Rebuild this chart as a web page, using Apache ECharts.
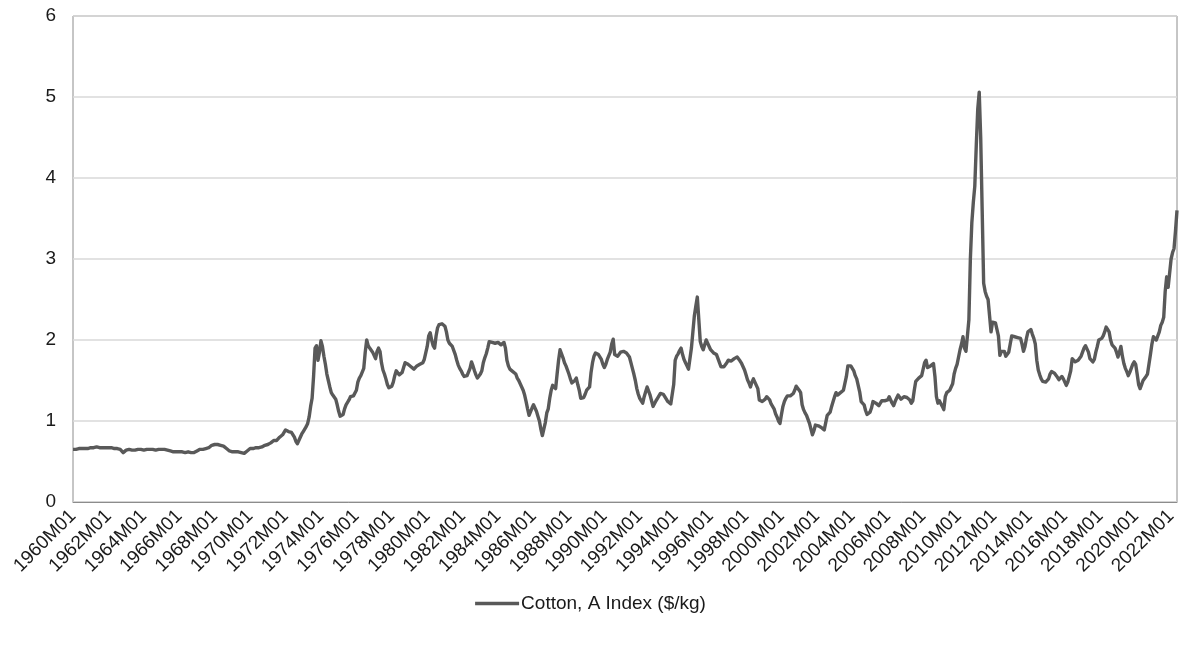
<!DOCTYPE html>
<html>
<head>
<meta charset="utf-8">
<script src="https://cdn.jsdelivr.net/npm/echarts@6/dist/echarts.min.js"></script>
<style>html,body{margin:0;padding:0;background:#fff}#c{width:1181px;height:646px}</style>
</head>
<body>
<div id="c"></div>
<script>
const seriesName = 'Cotton, A Index ($/kg)';
const firstYear = 1960;
const yTicks = [0, 1, 2, 3, 4, 5, 6];

const cotton1960s = [
  0.65,0.65,0.65,0.65,0.66,0.66,0.66,0.66,0.66,0.66,0.66,0.67,
  0.67,0.67,0.67,0.68,0.68,0.68,0.67,0.67,0.67,0.68,0.67,0.67,
  0.67,0.67,0.67,0.66,0.66,0.66,0.66,0.66,0.65,0.63,0.61,0.63,
  0.64,0.65,0.65,0.65,0.64,0.64,0.64,0.64,0.65,0.65,0.65,0.64,
  0.64,0.64,0.65,0.65,0.65,0.65,0.65,0.64,0.64,0.64,0.65,0.65,
  0.65,0.67,0.65,0.64,0.64,0.63,0.63,0.63,0.62,0.62,0.62,0.62,
  0.62,0.62,0.62,0.61,0.61,0.62,0.62,0.63,0.61,0.61,0.61,0.62,
  0.63,0.64,0.65,0.65,0.65,0.66,0.66,0.66,0.67,0.68,0.70,0.71,
  0.71,0.71,0.71,0.71,0.70,0.70,0.69,0.68,0.66,0.64,0.63,0.62,
  0.62,0.62,0.62,0.62,0.62,0.62,0.61,0.61,0.60,0.62,0.63,0.65
];
const cotton1970s = [
  0.66,0.66,0.66,0.67,0.67,0.67,0.67,0.68,0.68,0.69,0.70,0.70,
  0.71,0.72,0.73,0.73,0.76,0.77,0.76,0.78,0.80,0.82,0.83,0.85,
  0.89,0.88,0.87,0.86,0.86,0.84,0.80,0.75,0.72,0.76,0.80,0.84,
  0.87,0.90,0.93,0.97,1.05,1.18,1.28,1.55,1.90,1.93,1.75,1.85,
  1.99,1.92,1.80,1.70,1.58,1.50,1.42,1.35,1.32,1.30,1.27,1.20,
  1.12,1.06,1.05,1.08,1.15,1.20,1.22,1.26,1.30,1.32,1.31,1.30,
  1.38,1.48,1.53,1.56,1.58,1.65,1.85,2.00,1.93,1.90,1.88,1.85,
  1.85,1.77,1.86,1.90,1.86,1.72,1.63,1.58,1.52,1.45,1.41,1.42,
  1.43,1.48,1.56,1.62,1.60,1.57,1.55,1.60,1.66,1.72,1.73,1.70,
  1.68,1.67,1.66,1.64,1.66,1.68,1.69,1.70,1.71,1.72,1.76,1.84
];
const cotton1980s = [
  1.92,2.05,2.09,2.00,1.93,1.90,2.05,2.15,2.19,2.20,2.20,2.19,
  2.17,2.10,2.00,1.96,1.95,1.92,1.90,1.82,1.75,1.69,1.65,1.62,
  1.58,1.55,1.54,1.56,1.57,1.65,1.73,1.68,1.62,1.57,1.53,1.55,
  1.58,1.62,1.72,1.78,1.83,1.90,1.98,2.00,1.97,1.96,1.96,1.97,
  1.97,1.95,1.94,1.96,1.97,1.90,1.75,1.68,1.64,1.62,1.61,1.60,
  1.58,1.53,1.50,1.46,1.42,1.38,1.32,1.24,1.15,1.07,1.08,1.16,
  1.20,1.16,1.12,1.06,1.00,0.90,0.82,0.84,0.98,1.10,1.15,1.28,
  1.38,1.44,1.42,1.40,1.58,1.75,1.88,1.86,1.78,1.72,1.68,1.66,
  1.58,1.52,1.47,1.46,1.50,1.53,1.45,1.38,1.28,1.27,1.29,1.33,
  1.38,1.40,1.42,1.60,1.72,1.80,1.84,1.83,1.82,1.82,1.76,1.70
];
const cotton1990s = [
  1.66,1.70,1.76,1.78,1.85,1.95,2.01,1.82,1.80,1.80,1.82,1.85,
  1.87,1.86,1.85,1.84,1.82,1.79,1.72,1.65,1.58,1.50,1.40,1.33,
  1.28,1.25,1.22,1.30,1.36,1.42,1.40,1.32,1.25,1.18,1.20,1.25,
  1.28,1.31,1.34,1.35,1.33,1.31,1.27,1.24,1.22,1.21,1.21,1.45,
  1.75,1.80,1.83,1.87,1.90,1.82,1.76,1.72,1.68,1.64,1.65,1.90,
  2.10,2.30,2.42,2.53,2.52,1.98,1.92,1.88,1.94,2.00,1.96,1.92,
  1.88,1.86,1.84,1.84,1.82,1.80,1.72,1.67,1.66,1.67,1.68,1.72,
  1.75,1.75,1.74,1.75,1.77,1.78,1.79,1.77,1.74,1.71,1.67,1.63,
  1.57,1.51,1.47,1.42,1.48,1.52,1.48,1.44,1.40,1.26,1.24,1.24,
  1.24,1.27,1.30,1.31,1.26,1.21,1.19,1.15,1.09,1.05,1.00,0.97
];
const cotton2000s = [
  1.08,1.18,1.24,1.28,1.31,1.32,1.31,1.30,1.34,1.38,1.43,1.42,
  1.38,1.35,1.20,1.14,1.10,1.07,1.02,0.97,0.90,0.83,0.88,0.95,
  0.95,0.94,0.93,0.92,0.90,0.89,0.98,1.07,1.09,1.11,1.18,1.24,
  1.30,1.35,1.32,1.30,1.35,1.37,1.38,1.40,1.55,1.68,1.70,1.68,
  1.67,1.62,1.56,1.52,1.50,1.36,1.24,1.22,1.20,1.13,1.08,1.08,
  1.11,1.16,1.24,1.23,1.22,1.20,1.19,1.22,1.25,1.27,1.25,1.24,
  1.26,1.30,1.26,1.22,1.19,1.24,1.28,1.32,1.30,1.27,1.26,1.30,
  1.31,1.29,1.28,1.26,1.22,1.25,1.38,1.49,1.51,1.53,1.54,1.56,
  1.58,1.72,1.75,1.66,1.64,1.68,1.70,1.71,1.55,1.30,1.22,1.25,
  1.26,1.18,1.14,1.30,1.35,1.37,1.38,1.42,1.46,1.58,1.65,1.70
];
const cotton2010s = [
  1.72,1.88,1.95,2.04,1.90,1.86,2.05,2.25,3.00,3.45,3.70,3.90,
  4.40,4.85,5.06,4.50,3.60,2.70,2.60,2.54,2.50,2.30,2.10,2.22,
  2.22,2.21,2.19,2.05,1.81,1.86,1.85,1.86,1.80,1.78,1.85,1.95,
  2.05,2.07,2.04,2.04,2.03,2.04,2.02,1.95,1.86,1.92,2.02,2.10,
  2.08,2.13,2.07,2.02,1.95,1.75,1.63,1.57,1.52,1.49,1.49,1.48,
  1.49,1.52,1.58,1.61,1.60,1.59,1.58,1.54,1.51,1.52,1.55,1.52,
  1.50,1.44,1.48,1.55,1.62,1.77,1.76,1.73,1.74,1.75,1.77,1.80,
  1.82,1.90,1.93,1.95,1.85,1.77,1.75,1.73,1.76,1.85,1.92,2.00,
  2.00,2.02,2.05,2.10,2.16,2.13,2.10,2.00,1.94,1.92,1.90,1.85,
  1.79,1.85,1.92,1.80,1.71,1.65,1.61,1.56,1.60,1.65,1.70,1.73
];
const cotton2020s = [
  1.70,1.58,1.45,1.40,1.45,1.50,1.52,1.55,1.58,1.70,1.82,1.95,
  2.04,2.02,2.00,2.05,2.10,2.18,2.22,2.28,2.60,2.78,2.65,2.63,
  3.00,3.08,3.13,3.35,3.60
];

const values = [].concat(cotton1960s, cotton1970s, cotton1980s, cotton1990s, cotton2000s, cotton2010s, cotton2020s);
const categories = [];
for (let i = 0; i < values.length; i++) {
  const y = firstYear + Math.floor(i / 12);
  const m = (i % 12) + 1;
  categories.push(y + 'M' + (m < 10 ? '0' + m : m));
}

const FONT = 'Liberation Sans, Arial, sans-serif';
const chart = echarts.init(document.getElementById('c'), null, {renderer: 'canvas'});
chart.setOption({
  animation: false,
  backgroundColor: '#ffffff',
  textStyle: {fontFamily: FONT},
  grid: {left: 73, right: 4, top: 16, bottom: 144, show: true, borderColor: '#8c8c8c', borderWidth: 1, containLabel: false},
  legend: {
    bottom: 28, left: 'center',
    itemWidth: 44, itemHeight: 14, itemGap: 10,
    textStyle: {fontSize: 19, color: '#1a1a1a', fontFamily: FONT, padding: [0,0,0,-3]},
    data: [{name: seriesName, icon: 'path://M0,0 L44,0 L44,3.4 L0,3.4 Z', itemStyle: {color: '#595959'}}]
  },
  xAxis: {
    type: 'category',
    data: categories,
    boundaryGap: false,
    axisLine: {show: true, lineStyle: {color: '#8c8c8c', width: 1}},
    axisTick: {show: false},
    axisLabel: {interval: 23, rotate: 45, margin: 11, fontSize: 19, color: '#1a1a1a', fontFamily: FONT},
    splitLine: {show: false}
  },
  yAxis: {
    type: 'value',
    min: yTicks[0], max: yTicks[yTicks.length - 1], interval: 1,
    axisLine: {show: false},
    axisTick: {show: false},
    axisLabel: {fontSize: 19, color: '#1a1a1a', margin: 17, fontFamily: FONT},
    splitLine: {show: true, lineStyle: {color: '#d9d9d9', width: 1.5}}
  },
  series: [{
    name: seriesName,
    type: 'line',
    data: values,
    symbol: 'none',
    showSymbol: false,
    smooth: false,
    lineStyle: {color: '#595959', width: 3.4, join: 'round'},
    itemStyle: {color: '#595959'}
  }]
});
</script>
</body>
</html>
